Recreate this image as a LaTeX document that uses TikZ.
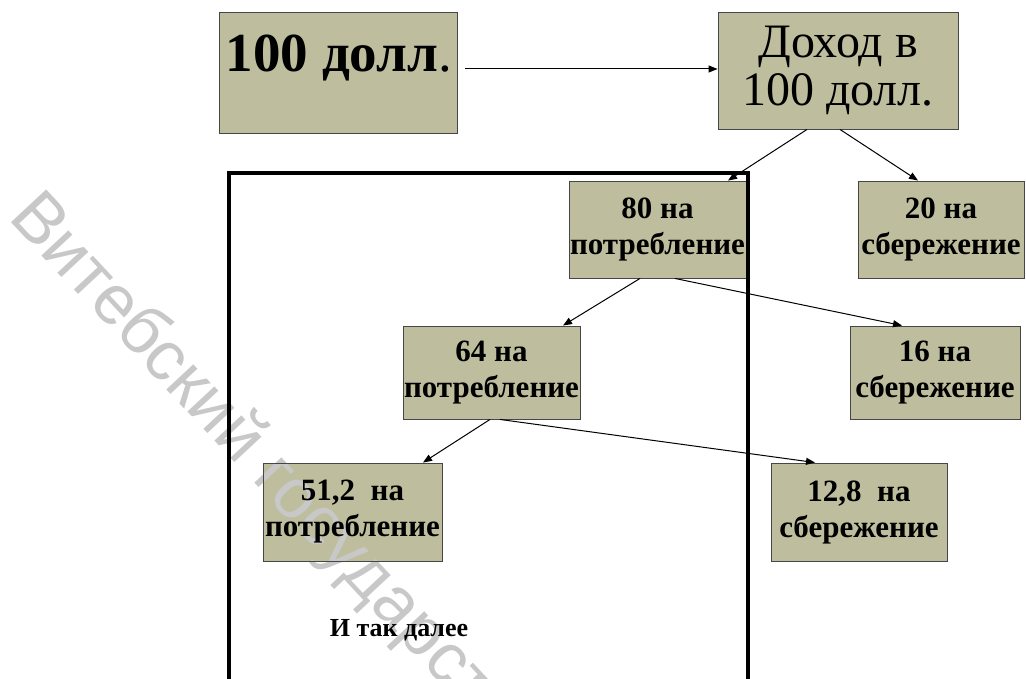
\documentclass[tikz,border=0pt]{standalone}
\usepackage{fontspec}
\setmainfont{Liberation Serif}
\newfontfamily\wmfont{Liberation Sans}
\usetikzlibrary{arrows.meta}
\pgfdeclarelayer{fills}
\pgfdeclarelayer{wm}
\pgfsetlayers{fills,wm,main}
\definecolor{boxfill}{RGB}{190,190,158}
\definecolor{boxline}{RGB}{70,70,70}
\definecolor{wmgray}{RGB}{200,200,200}
\begin{document}
\begin{tikzpicture}[x=1pt,y=-1pt,
  box/.style={draw=boxline,line width=0.9pt,inner sep=0pt,align=center},
  lbl/.style={font=\bfseries\fontsize{31}{36}\selectfont},
  conn/.style={line width=1pt,-{Triangle[length=9pt,width=7pt]}}]
\useasboundingbox (0,0) rectangle (1026,679);
\clip (0,0) rectangle (1026,679);
% boxes
\node[box,minimum width=238pt,minimum height=121pt] (a) at (338,72.5) {};
\node[anchor=base,inner sep=0pt,font=\fontsize{55}{60}\selectfont] (at) at (339,72) {\textbf{100 долл}.};
\node[box,minimum width=240pt,minimum height=117pt,font=\fontsize{48}{48}\selectfont] (b) at (838,70.5) {Доход в\\100 долл.};
\node[box,lbl,minimum width=177pt,minimum height=97pt] (c1) at (657.5,229.5) {80 на\\потребление};
\node[box,lbl,minimum width=166pt,minimum height=97pt] (c2) at (941,229.5) {20 на\\сбережение};
\node[box,lbl,minimum width=177pt,minimum height=93pt] (d1) at (491.5,372.5) {64 на\\потребление};
\node[box,lbl,minimum width=170pt,minimum height=93pt] (d2) at (935,372.5) {16 на\\сбережение};
\node[box,lbl,minimum width=179pt,minimum height=98pt] (e1) at (352.5,512) {51,2\ \ на\\потребление};
\node[box,lbl,minimum width=176pt,minimum height=98pt] (e2) at (859,512) {12,8\ \ на\\сбережение};
\node[anchor=base,inner sep=0pt,font=\bfseries\fontsize{26}{30}\selectfont] (etc) at (399,636) {И так далее};
% fills
\begin{pgfonlayer}{fills}
\foreach \n in {a,b,c1,c2,d1,d2,e1,e2}
  \fill[boxfill] (\n.south west) rectangle (\n.north east);
\end{pgfonlayer}
% watermark
\begin{pgfonlayer}{wm}
\node[anchor=base west,rotate=-47,inner sep=0pt,font=\wmfont\fontsize{70}{70}\selectfont,text=wmgray] (wmk) at (7,218) {Витебский государственный университет};
\end{pgfonlayer}
% frame
\draw[line width=3.5pt] (229,690) -- (229,173) -- (748,173) -- (748,690);
% connectors
\draw[conn] ([xshift=8pt,yshift=3.5pt]a.east) -- ([yshift=3.5pt]a.east -| b.west);
\draw[conn] ([xshift=-31pt]b.south) -- ([xshift=70.5pt]c1.north);
\draw[conn] ([xshift=2pt]b.south) -- ([xshift=-23pt]c2.north);
\draw[conn] ([xshift=-17.5pt]c1.south) -- ([xshift=71.5pt]d1.north);
\draw[conn] ([xshift=17.5pt]c1.south) -- ([xshift=-33pt]d2.north);
\draw[conn] ([xshift=-1.5pt]d1.south) -- ([xshift=70.5pt]e1.north);
\draw[conn] ([xshift=8.5pt]d1.south) -- ([xshift=-44pt]e2.north);
\end{tikzpicture}
\end{document}
